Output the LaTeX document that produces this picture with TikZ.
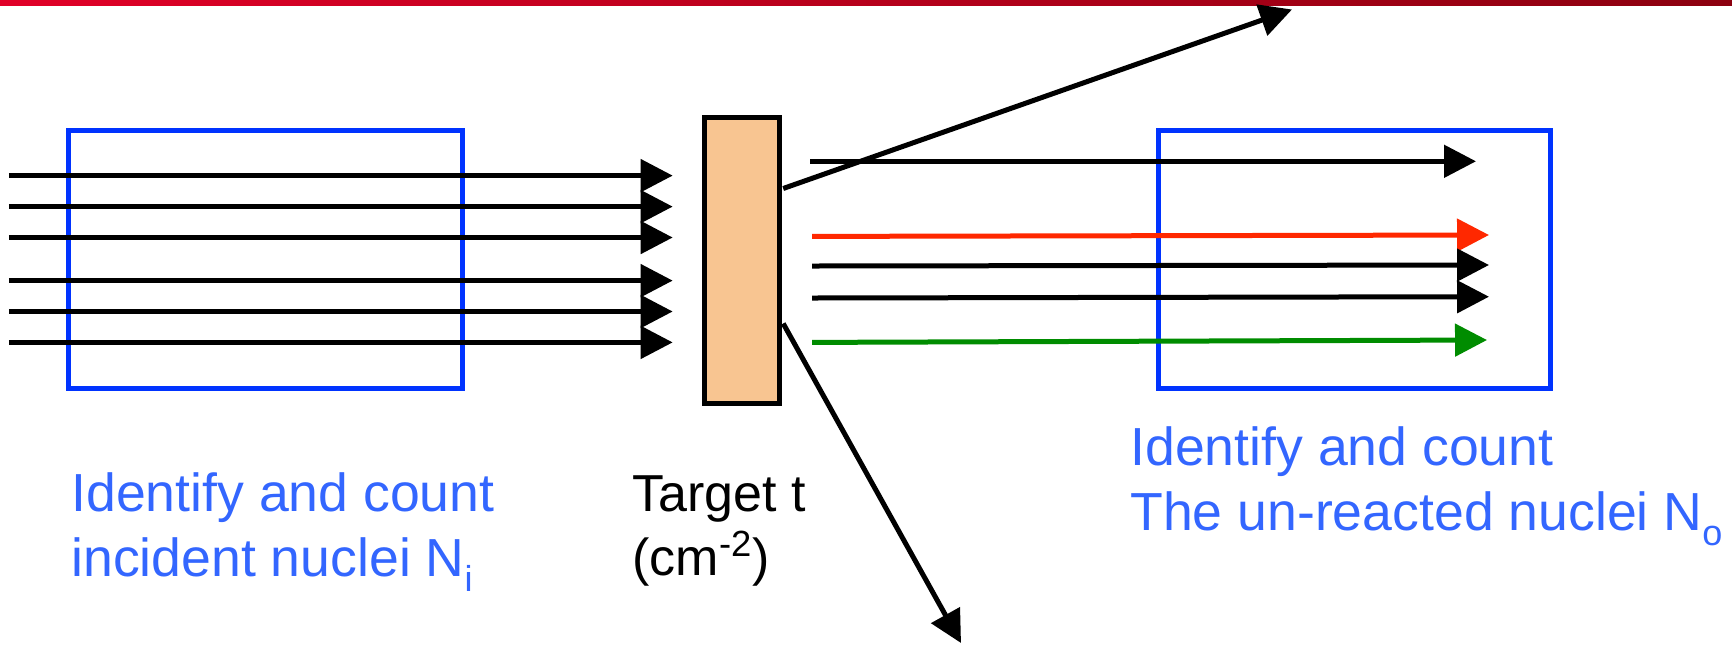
\documentclass[tikz,border=0pt]{standalone}
\usepackage{fontspec}
\setmainfont{Liberation Sans}
\usetikzlibrary{arrows.meta,calc}
\definecolor{boxblue}{RGB}{0,51,255}
\definecolor{txtblue}{RGB}{51,102,255}
\definecolor{tgtfill}{RGB}{248,197,145}
\definecolor{redarr}{RGB}{255,40,0}
\definecolor{greenarr}{RGB}{0,140,0}
\definecolor{barL}{RGB}{225,0,40}
\definecolor{barR}{RGB}{140,0,15}
\newcommand{\subsc}[1]{\raisebox{-0.28em}{\fontsize{18}{18}\selectfont #1}}
\begin{document}
\begin{tikzpicture}[x=0.5pt,y=-0.5pt,
  beam/.style={line width=2.5pt,-{Triangle[length=16pt,width=16pt]}},
  counter/.style={draw=boxblue,line width=2.5pt,rectangle,inner sep=0pt},
  lbl/.style={anchor=base west,inner sep=0pt,font=\fontsize{26.8}{32}\selectfont},
  ]
\useasboundingbox (0,0) rectangle (1732,644);
\shade[left color=barL,right color=barR] (0,0) rectangle (1732,5);
% detector boxes
\node[counter,minimum width=196.75pt,minimum height=129pt] (boxL) at (265.25,259) {};
\node[counter,minimum width=196pt,minimum height=129pt] (boxR) at (1354,259) {};
% target
\node[draw=black,fill=tgtfill,line width=2.5pt,rectangle,inner sep=0pt,
      minimum width=37.5pt,minimum height=143pt] (target) at (741.7,260) {};
% incident beams
\foreach \k/\yy in {1/175.6,2/206.6,3/237.5,4/280.6,5/311.5,6/342.4}{
  \coordinate (in\k) at (8.8,\yy);
  \coordinate (hit\k) at (672.7,\yy);
  \draw[beam] (in\k) -- (hit\k);
}
% outgoing beams
\coordinate (o1a) at (810,161.3); \coordinate (o1b) at (1476,161.3);
\coordinate (o2a) at (812,236.4); \coordinate (o2b) at (1489,235);
\coordinate (o3a) at (812,266);   \coordinate (o3b) at (1489,265);
\coordinate (o4a) at (812,298);   \coordinate (o4b) at (1489,296.7);
\coordinate (o5a) at (812,342.4); \coordinate (o5b) at (1487,340);
\draw[beam] (o1a) -- (o1b);
\draw[beam,draw=redarr,fill=redarr] (o2a) -- (o2b);
\draw[beam] (o3a) -- (o3b);
\draw[beam] (o4a) -- (o4b);
\draw[beam,draw=greenarr,fill=greenarr] (o5a) -- (o5b);
% scattered
\coordinate (s1a) at ($(target.north east)+(1.5,74)$);
\coordinate (s1b) at (1292,9.5);
\coordinate (s2a) at ($(target.north east)+(1.5,209)$);
\coordinate (s2b) at (961,643);
\draw[beam] (s1a) -- (s1b);
\draw[beam] (s2a) -- (s2b);
% labels
\node[lbl,text=txtblue] (tL1) at (71,511.7) {Identify and count};
\node[lbl,text=txtblue] (tL2) at (71,576) {incident nuclei N\subsc{i}};
\node[lbl,text=black,font=\fontsize{26}{32}\selectfont] (tT1) at (632,511) {Target t};
\node[lbl,text=black,font=\fontsize{26}{32}\selectfont] (tT2) at (632,575) {(cm\textsuperscript{-2})};
\node[lbl,text=txtblue] (tR1) at (1130,465.7) {Identify and count};
\node[lbl,text=txtblue] (tR2) at (1130,530) {The un-reacted nuclei N\subsc{o}};
\end{tikzpicture}
\end{document}
